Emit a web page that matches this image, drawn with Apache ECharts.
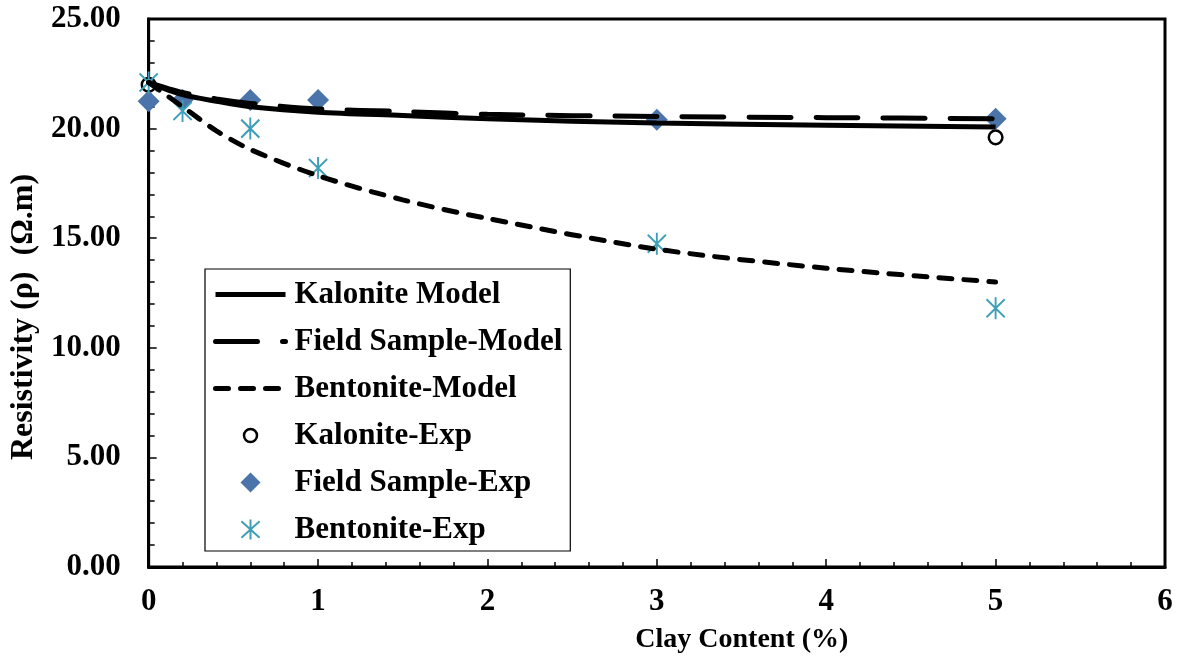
<!DOCTYPE html>
<html>
<head>
<meta charset="utf-8">
<script src="https://cdn.jsdelivr.net/npm/echarts@6/dist/echarts.min.js"></script>
<style>
  html, body { margin: 0; padding: 0; background: #fff; }
  #chart { width: 1177px; height: 660px; }
</style>
</head>
<body>
<div id="chart"></div>
<script>
// model curves
const modelX = [0, 0.2, 0.4, 0.6, 1, 1.5, 2, 3, 4, 5];
const kaloniteModel = [22.1, 21.55, 21.25, 21.0, 20.75, 20.6, 20.45, 20.25, 20.15, 20.07];
const fieldModel = [22.1, 21.65, 21.35, 21.15, 20.9, 20.78, 20.65, 20.55, 20.5, 20.45];
const bentoniteModel = [22.1, 21.0, 19.9, 19.05, 17.85, 16.75, 15.9, 14.5, 13.63, 13.0];

// experiments
const kaloniteExpX = [0, 5];
const kaloniteExp = [22.0, 19.6];
const expX = [0, 0.2, 0.6, 1, 3, 5];
const fieldExp = [21.25, 21.3, 21.3, 21.3, 20.4, 20.45];
const bentoniteExp = [22.1, 20.8, 20.0, 18.2, 14.75, 11.8];

const font = "'Liberation Serif', 'Times New Roman', serif";
const pairs = (xs, ys) => xs.map((x, i) => [x, ys[i]]);

// symbols as paths so they keep their shape in the legend
const circleSym = "path://M-10,-10L-10,-10M10,10L10,10M6.5,0A6.5,6.5 0 1,1 -6.5,0A6.5,6.5 0 1,1 6.5,0Z";
const diamondSym = "path://M0,-10L10,0L0,10L-10,0Z";
const starSym = "path://M0,-11L0,11M-10,-9L10,9M-10,9L10,-9";

const solidLine = { color: "#000", width: 5 };
const longDash = { color: "#000", width: 5, type: [42, 25], cap: "round" };
const shortDash = { color: "#000", width: 5, type: [13, 12], cap: "round" };
const noSymbol = { color: "transparent", borderColor: "transparent", borderWidth: 0 };

const chart = echarts.init(document.getElementById("chart"));
chart.setOption({
  animation: false,
  backgroundColor: "#fff",
  textStyle: { fontFamily: font },
  grid: {
    left: 148, right: 12, top: 19, bottom: 93,
    show: true, borderColor: "#000", borderWidth: 3,
  },
  legend: {
    orient: "vertical",
    left: 205, top: 269,
    backgroundColor: "#fff",
    borderColor: "#000", borderWidth: 1.2,
    padding: [9, 8, 5, 8],
    itemWidth: 70, itemHeight: 20, itemGap: 14,
    symbolKeepAspect: true,
    textStyle: {
      fontFamily: font, fontWeight: "bold", fontSize: 31, color: "#000",
      lineHeight: 33, padding: [0, 0, 0, 4],
    },
    data: [
      { name: "Kalonite Model", lineStyle: solidLine, itemStyle: noSymbol },
      { name: "Field Sample-Model", lineStyle: longDash, itemStyle: noSymbol },
      { name: "Bentonite-Model", lineStyle: shortDash, itemStyle: noSymbol },
      { name: "Kalonite-Exp", itemStyle: { color: "#fff", borderColor: "#000", borderWidth: 2.5 } },
      { name: "Field Sample-Exp", itemStyle: { color: "#4a74aa", borderWidth: 0 } },
      { name: "Bentonite-Exp", itemStyle: { color: "transparent", borderColor: "#3f9fb8", borderWidth: 2 } },
    ],
  },
  xAxis: {
    type: "value", min: 0, max: 6, interval: 1,
    name: "Clay Content (%)", nameLocation: "middle", nameGap: 59,
    nameTextStyle: { fontFamily: font, fontWeight: "bold", fontSize: 28, color: "#000", padding: [0, 0, 0, 170] },
    axisLine: { lineStyle: { color: "#000", width: 3 } },
    axisTick: { inside: true, length: 8, lineStyle: { color: "#000", width: 1.5 } },
    minorTick: { show: true, splitNumber: 5, length: 5, lineStyle: { color: "#000", width: 1.5 } },
    axisLabel: { fontFamily: font, fontWeight: "bold", fontSize: 31, color: "#000", margin: 19 },
    splitLine: { show: false },
  },
  yAxis: {
    type: "value", min: 0, max: 25, interval: 5,
    name: "Resistivity (ρ)  (Ω.m)", nameLocation: "middle", nameGap: 102,
    nameTextStyle: { fontFamily: font, fontWeight: "bold", fontSize: 32, color: "#000", padding: [0, 48, 0, 0] },
    axisLine: { lineStyle: { color: "#000", width: 3 } },
    axisTick: { inside: true, length: 8, lineStyle: { color: "#000", width: 1.5 } },
    minorTick: { show: true, splitNumber: 5, length: 6, lineStyle: { color: "#000", width: 1.5 } },
    axisLabel: {
      fontFamily: font, fontWeight: "bold", fontSize: 31, color: "#000", margin: 28,
      formatter: v => v.toFixed(2),
    },
    splitLine: { show: false },
  },
  series: [
    {
      name: "Kalonite Model", type: "line", data: pairs(modelX, kaloniteModel),
      showSymbol: false, symbol: "none", smooth: 0.3,
      lineStyle: solidLine,
    },
    {
      name: "Field Sample-Model", type: "line", data: pairs(modelX, fieldModel),
      showSymbol: false, symbol: "none", smooth: 0.3,
      lineStyle: longDash,
    },
    {
      name: "Bentonite-Model", type: "line", data: pairs(modelX, bentoniteModel),
      showSymbol: false, symbol: "none", smooth: 0.3,
      lineStyle: shortDash,
    },
    {
      name: "Kalonite-Exp", type: "scatter", data: pairs(kaloniteExpX, kaloniteExp),
      symbol: circleSym, symbolSize: 21, symbolKeepAspect: true,
      itemStyle: { color: "#fff", borderColor: "#000", borderWidth: 2.5, opacity: 1 },
    },
    {
      name: "Field Sample-Exp", type: "scatter", data: pairs(expX, fieldExp),
      symbol: diamondSym, symbolSize: 22, symbolKeepAspect: true,
      itemStyle: { color: "#4a74aa", opacity: 1 },
    },
    {
      name: "Bentonite-Exp", type: "scatter", data: pairs(expX, bentoniteExp),
      symbol: starSym, symbolSize: [20, 22], symbolKeepAspect: true,
      itemStyle: { color: "transparent", borderColor: "#3f9fb8", borderWidth: 2, opacity: 1 },
    },
  ],
});

window.addEventListener("resize", () => {
  chart.resize();
});
</script>
</body>
</html>
